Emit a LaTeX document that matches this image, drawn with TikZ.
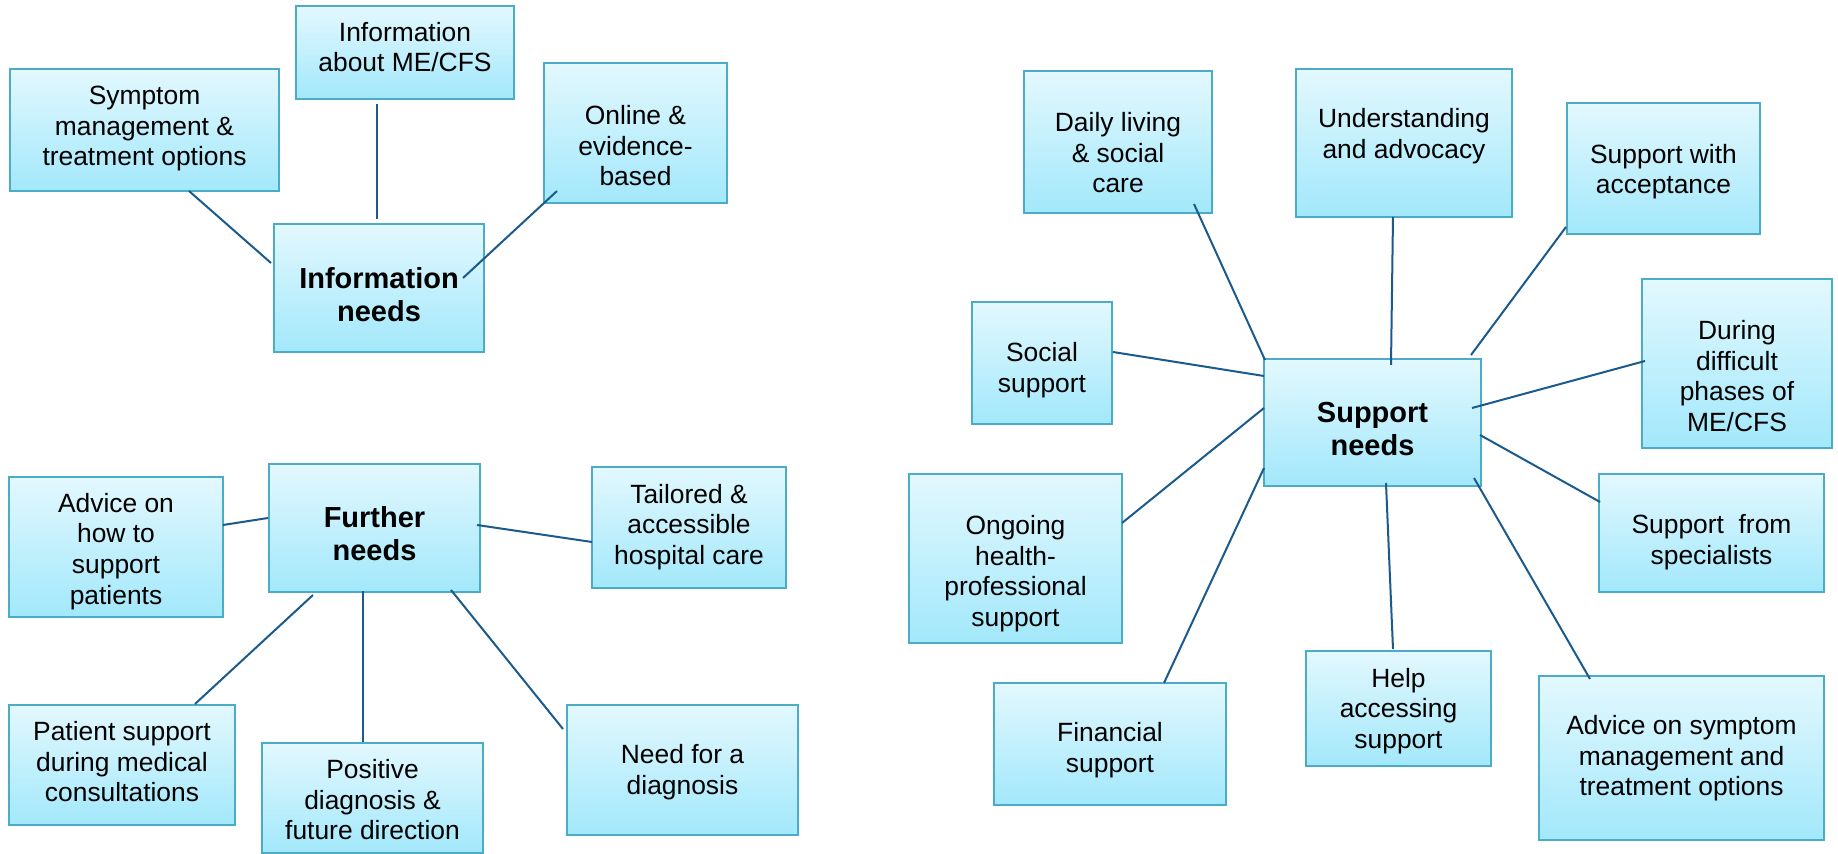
\documentclass[tikz,border=0pt]{standalone}
\usepackage{fontspec}
\setmainfont{Liberation Sans}
\definecolor{boxtop}{HTML}{E3F8FE}
\definecolor{boxbot}{HTML}{A2E8FB}
\definecolor{boxline}{HTML}{4BACC6}
\definecolor{connline}{HTML}{1B5A8C}
\tikzset{
  box/.style={draw=boxline, line width=1.3pt, top color=boxtop, bottom color=boxbot,
              inner sep=0pt, outer sep=0pt, font=\fontsize{13.2}{15.3}\selectfont},
  hubbox/.style={box, font=\fontsize{14.5}{16.6}\selectfont\bfseries},
  conn/.style={draw=connline, line width=1pt}
}
\newcommand\bx[8][box]{%
  \node[#1, minimum width={(#5-#3)*0.5pt}, minimum height={(#6-#4)*0.5pt}]
    (#2) at ({(#3+#5)/2},{(#4+#6)/2})
    {\raisebox{#7pt}[\height][\depth]{\begin{tabular}{@{}c@{}}#8\end{tabular}}};}
\begin{document}
\begin{tikzpicture}[x=0.5pt,y=-0.5pt]
\path[fill=white] (0,0) rectangle (1838,854);
\useasboundingbox (0,0) rectangle (1838,854);

% ---------- Information needs ----------
\bx{sym}{10}{69}{279}{191}{0.5}{Symptom\\management \&\\treatment options}
\bx{iabout}{296}{6}{514}{99}{1}{Information\\about ME/CFS}
\bx{online}{544}{63}{727}{203}{-8}{Online \&\\evidence-\\based}
\bx[hubbox]{ihub}{274}{224}{484}{352}{-5}{Information\\needs}

% ---------- Further needs ----------
\bx{advhow}{9}{477}{223}{617}{-2.5}{Advice on\\how to\\support\\patients}
\bx[hubbox]{fhub}{269}{464}{480}{592}{-4.5}{Further\\needs}
\bx{tail}{592}{467}{786}{588}{0}{Tailored \&\\accessible\\hospital care}
\bx{pat}{9}{705}{235}{825}{0}{Patient support\\during medical\\consultations}
\bx{pos}{262}{743}{483}{853}{-2.5}{Positive\\diagnosis \&\\future direction}
\bx{need}{567}{705}{798}{835}{-1.5}{Need for a\\diagnosis}

% ---------- Support needs ----------
\bx{daily}{1024}{71}{1212}{213}{-7}{Daily living\\\& social\\care}
\bx{under}{1296}{69}{1512}{217}{3}{Understanding\\and advocacy}
\bx{accept}{1567}{103}{1760}{234}{-2}{Support with\\acceptance}
\bx{during}{1642}{279}{1832}{448}{-8}{During\\difficult\\phases of\\ME/CFS}
\bx{social}{972}{302}{1112}{424}{-4}{Social\\support}
\bx[hubbox]{shub}{1264}{359}{1481}{486}{-5}{Support\\needs}
\bx{ongo}{909}{474}{1122}{643}{-8}{Ongoing\\health-\\professional\\support}
\bx{spec}{1599}{474}{1824}{592}{-5}{Support\ \ from\\specialists}
\bx{fin}{994}{683}{1226}{805}{-3.5}{Financial\\support}
\bx{help}{1306}{651}{1491}{766}{-1.5}{Help\\accessing\\support}
\bx{advsym}{1539}{676}{1824}{840}{-0.5}{Advice on symptom\\management and\\treatment options}

% ---------- connectors ----------
\draw[conn] ([shift={(179,122)}]sym.north west) -- ([shift={(-3,39)}]ihub.north west);
\draw[conn] ([shift={(81,98)}]iabout.north west) -- ([shift={(103,-5)}]ihub.north west);
\draw[conn] ([shift={(13,128)}]online.north west) -- ([shift={(189,54)}]ihub.north west);

\draw[conn] ([shift={(214,48)}]advhow.north west) -- ([shift={(-1,54)}]fhub.north west);
\draw[conn] ([shift={(208,61)}]fhub.north west) -- ([shift={(0,75)}]tail.north west);
\draw[conn] ([shift={(44,131)}]fhub.north west) -- ([shift={(186,-1)}]pat.north west);
\draw[conn] ([shift={(94,127)}]fhub.north west) -- ([shift={(101,-1)}]pos.north west);
\draw[conn] ([shift={(182,126)}]fhub.north west) -- ([shift={(-4,24)}]need.north west);

\draw[conn] ([shift={(170,133)}]daily.north west) -- ([shift={(1,1)}]shub.north west);
\draw[conn] ([shift={(141,50)}]social.north west) -- ([shift={(0,17)}]shub.north west);
\draw[conn] ([shift={(213,49)}]ongo.north west) -- ([shift={(0,49)}]shub.north west);
\draw[conn] ([shift={(170,0)}]fin.north west) -- ([shift={(0,109)}]shub.north west);
\draw[conn] ([shift={(97,148)}]under.north west) -- ([shift={(127,6)}]shub.north west);
\draw[conn] ([shift={(-1,124)}]accept.north west) -- ([shift={(207,-4)}]shub.north west);
\draw[conn] ([shift={(3,82)}]during.north west) -- ([shift={(208,49)}]shub.north west);
\draw[conn] ([shift={(216,76)}]shub.north west) -- ([shift={(1,28)}]spec.north west);
\draw[conn] ([shift={(122,124)}]shub.north west) -- ([shift={(87,-2)}]help.north west);
\draw[conn] ([shift={(210,119)}]shub.north west) -- ([shift={(51,3)}]advsym.north west);
\end{tikzpicture}
\end{document}
